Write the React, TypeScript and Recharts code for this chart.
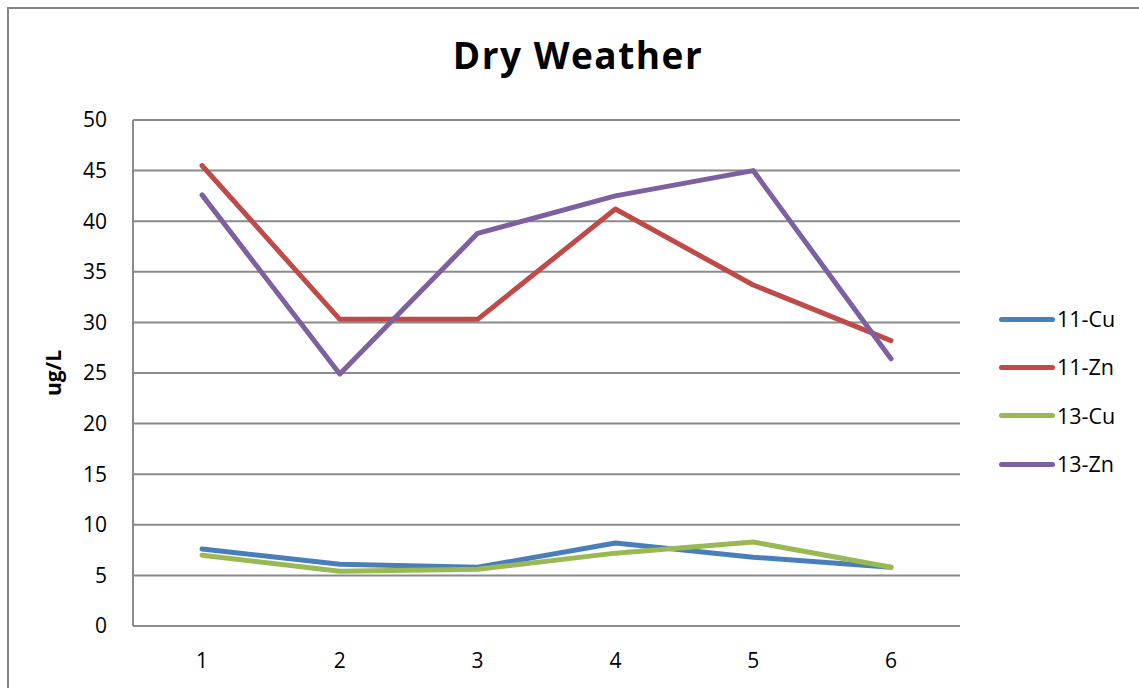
import React from 'react';
import { LineChart, Line, XAxis, YAxis, CartesianGrid, Legend } from 'recharts';

const categories = ['1', '2', '3', '4', '5', '6'];
const cu11 = [7.6, 6.1, 5.8, 8.2, 6.8, 5.8];
const zn11 = [45.5, 30.3, 30.3, 41.2, 33.7, 28.2];
const cu13 = [7.0, 5.4, 5.6, 7.2, 8.3, 5.8];
const zn13 = [42.6, 24.9, 38.8, 42.5, 45.0, 26.4];
const yTicks = [0, 5, 10, 15, 20, 25, 30, 35, 40, 45, 50];

const seriesNames = ['11-Cu', '11-Zn', '13-Cu', '13-Zn'];
const seriesColors = ['#4A7EBB', '#BE4B48', '#98B954', '#7D60A0'];
const seriesValues = [cu11, zn11, cu13, zn13];

const data = categories.map((c, i) => {
  const row: Record<string, string | number> = { x: c };
  seriesNames.forEach((n, k) => {
    row[n] = seriesValues[k][i];
  });
  return row;
});

const FONT = '"Open Sans", "Noto Sans", sans-serif';

const LegendContent = (props: any) => {
  const payload = props.payload || [];
  return (
    <div style={{ fontFamily: FONT }}>
      {payload.map((p: any) => (
        <div key={p.value} style={{ height: 48.3, display: 'flex', alignItems: 'center' }}>
          <div style={{ width: 56, height: 5, borderRadius: 3, background: p.color, marginRight: 2 }} />
          <span style={{ fontSize: 21.5, color: '#000', lineHeight: '22px' }}>{p.value}</span>
        </div>
      ))}
    </div>
  );
};

const YLabel = (props: any) => {
  const vb = props.viewBox || { x: 0, y: 0, width: 0, height: 0 };
  const x = vb.x + 53;
  const y = vb.y + vb.height / 2;
  return (
    <text
      x={x}
      y={y}
      transform={`rotate(-90 ${x} ${y})`}
      textAnchor="middle"
      dominantBaseline="central"
      fontFamily={FONT}
      fontWeight="bold"
      fontSize={21}
      fill="#000"
    >
      ug/L
    </text>
  );
};

export default function App() {
  return (
    <div style={{ position: 'fixed', left: 0, top: 0, width: 1139, height: 688, overflow: 'hidden', background: '#fff' }}>
      <svg style={{ position: 'absolute', left: 0, top: 0 }} width={1139} height={100}>
        <path d="M8 688 L8 8 L1139 8" fill="none" stroke="#868686" strokeWidth={2} />
        <text x={578} y={69} textAnchor="middle" fontFamily={FONT} fontWeight="bold" fontSize={37} letterSpacing={1.5} fill="#000">
          Dry Weather
        </text>
      </svg>
      <svg style={{ position: 'absolute', left: 0, top: 100 }} width={20} height={588}>
        <path d="M8 0 L8 588" fill="none" stroke="#868686" strokeWidth={2} />
      </svg>
      <div style={{ position: 'absolute', left: 0, top: 0 }}>
        <LineChart width={1139} height={688} data={data} margin={{ top: 120, right: 179, bottom: 0, left: 0 }}>
          <CartesianGrid vertical={false} stroke="#8a8a8a" strokeWidth={2} />
          <XAxis
            dataKey="x"
            height={62}
            padding={{ left: 69, right: 69 }}
            axisLine={{ stroke: '#8a8a8a', strokeWidth: 2 }}
            tickLine={false}
            tickSize={0}
            tickMargin={27}
            tick={{ fill: '#000', fontSize: 21, fontFamily: FONT }}
          />
          <YAxis
            width={133}
            domain={[0, 50]}
            ticks={yTicks}
            interval={0}
            axisLine={{ stroke: '#8a8a8a', strokeWidth: 2 }}
            tickLine={false}
            tickSize={0}
            tickMargin={26}
            tick={{ fill: '#000', fontSize: 21, fontFamily: FONT }}
            label={<YLabel />}
          />
          <Legend
            layout="horizontal"
            verticalAlign="middle"
            align="center"
            content={<LegendContent />}
            wrapperStyle={{ left: 999, top: 295, width: 140 }}
          />
          {seriesNames.map((n, k) => (
            <Line
              key={n}
              type="linear"
              dataKey={n}
              name={n}
              stroke={seriesColors[k]}
              strokeWidth={5}
              strokeLinecap="round"
              strokeLinejoin="round"
              dot={false}
              activeDot={false}
              isAnimationActive={false}
            />
          ))}
        </LineChart>
      </div>
    </div>
  );
}
